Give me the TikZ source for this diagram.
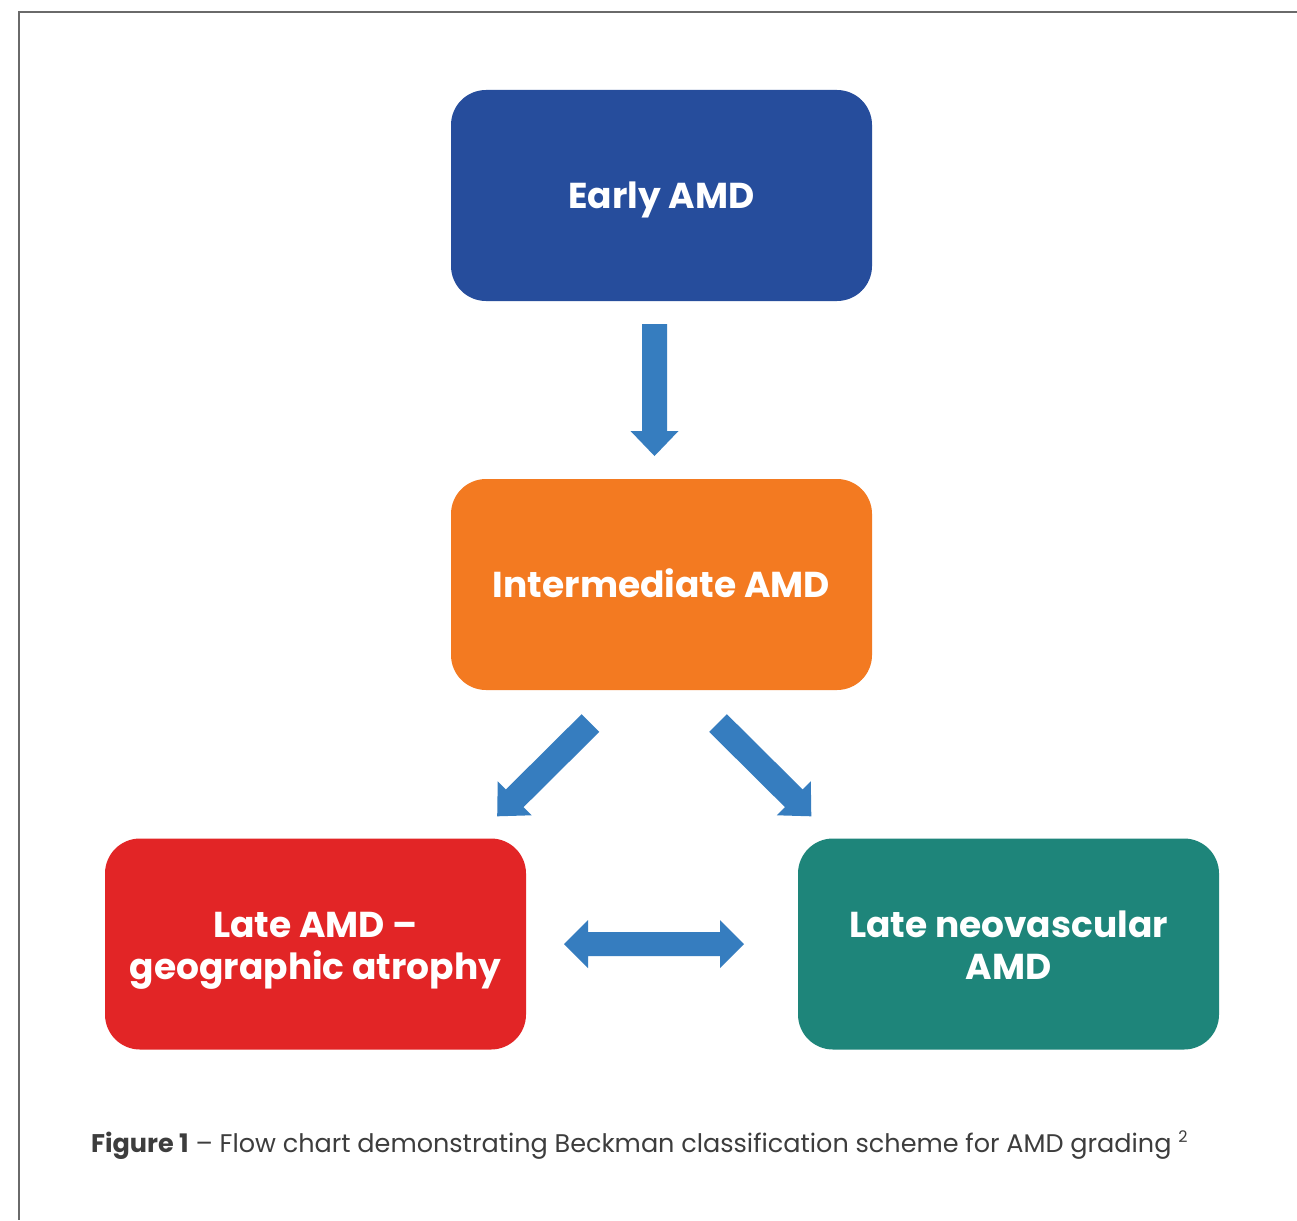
\documentclass[tikz,border=0pt]{standalone}
\usepackage{fontspec}
\setmainfont{Poppins}[BoldFont=Poppins Bold]
\definecolor{earlyblue}{HTML}{264D9C}
\definecolor{interorange}{HTML}{F37A21}
\definecolor{latered}{HTML}{E22526}
\definecolor{lateteal}{HTML}{1E857A}
\definecolor{arrowblue}{HTML}{367DBF}
\definecolor{frameg}{HTML}{6A6A6A}
\definecolor{captiong}{HTML}{3D3D3D}
\tikzset{
  stagebox/.style={rounded corners=35pt, minimum width=421pt, minimum height=211pt,
    inner sep=0pt},
  stagetext/.style={inner sep=0pt, align=center, text=white,
    font=\fontsize{36}{42}\selectfont\bfseries},
  bigarrow/.style={fill=arrowblue, draw=none}
}
\begin{document}
\begin{tikzpicture}[x=1pt,y=-1pt]
\useasboundingbox (0,0) rectangle (1297,1220);
\fill[white] (0,0) rectangle (1297,1220);
\draw[frameg, line width=2pt] (1297,12) -- (19,12) -- (19,1220);

\node[stagebox, fill=earlyblue] (early) at (661.5,195.5) {};
\node[stagebox, fill=interorange] (inter) at (661.5,584.5) {};
\node[stagebox, fill=latered] (ga) at (315.5,944) {};
\node[stagebox, fill=lateteal] (nv) at (1008.5,944) {};

\node[stagetext] (earlyt) at ([yshift=-4.1pt]early.center) {\strut Early AMD\strut};
\node[stagetext] (intert) at ([yshift=-4.1pt]inter.center) {\strut Intermediate AMD\strut};
\node[stagetext] (gat) at ([yshift=-5.6pt]ga.center) {\strut Late AMD –\strut\\\strut geographic atrophy\strut};
\node[stagetext] (nvt) at ([yshift=-5.6pt]nv.center) {\strut Late neovascular\strut\\\strut AMD\strut};

% down arrow
\fill[bigarrow] (642,324) -- (667,324) -- (667,431) -- (678.5,431) -- (654.5,456)
  -- (630.5,431) -- (642,431) -- cycle;
% left diagonal arrow
\fill[bigarrow] (599.34,731.84) -- (523.52,807.16) -- (531.65,815.29) -- (497.2,816.3)
  -- (497.71,781.35) -- (505.84,789.48) -- (581.66,714.16) -- cycle;
% right diagonal arrow
\fill[bigarrow] (709.16,731.84) -- (784.98,807.16) -- (776.85,815.29) -- (811.3,816.3)
  -- (810.79,781.35) -- (802.66,789.48) -- (726.84,714.16) -- cycle;
% double arrow
\fill[bigarrow] (564,944) -- (588,920) -- (588,932) -- (720,932) -- (720,920) -- (744,944)
  -- (720,968) -- (720,956) -- (588,956) -- (588,968) -- cycle;

\node[anchor=base west, inner sep=0pt, text=captiong, font=\fontsize{25.5}{30}\selectfont]
  (caption) at (91,1152) {\textbf{Figure 1} – Flow chart demonstrating Beckman classification scheme for AMD grading \raisebox{10pt}{\fontsize{16}{19}\selectfont 2}};
\end{tikzpicture}
\end{document}
